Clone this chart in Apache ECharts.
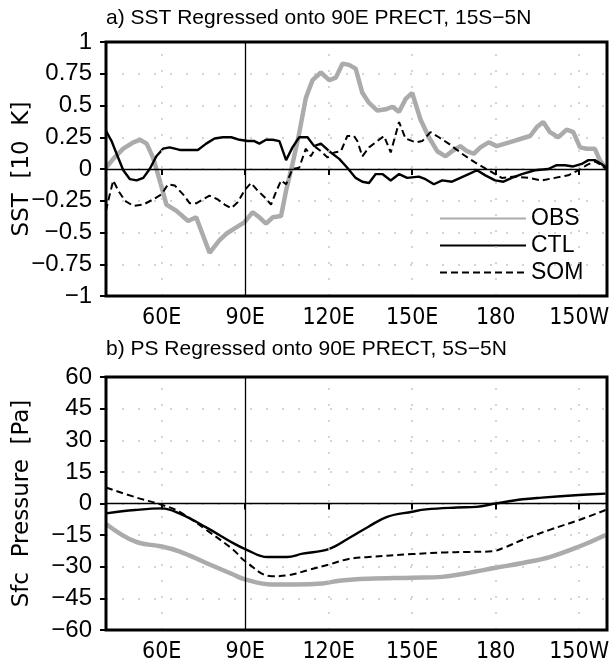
<!DOCTYPE html>
<html>
<head>
<meta charset="utf-8">
<script src="https://cdn.jsdelivr.net/npm/echarts@6/dist/echarts.min.js"></script>
<style>
  html, body { margin: 0; padding: 0; background: #fff; }
  #chart { width: 609px; height: 663px; }
</style>
</head>
<body>
<div id="chart"></div>
<script>
// Longitude ticks shared by both panels
const lonTicks = [60, 90, 120, 150, 180, 210];
const lonTickLabels = ['60E', '90E', '120E', '150E', '180', '150W'];
const dottedLons = [60, 120, 150, 180, 210];

// Panel a) SST regression, [lon, value in 10 K]
const sstObs = [[40,0.01],[42.6,0.08],[46.2,0.16],[49.8,0.21],[52.2,0.23],[54.6,0.20],[56.9,0.09],[59.3,-0.09],[61.7,-0.28],[65.3,-0.33],[69.5,-0.41],[72.4,-0.38],[74.8,-0.52],[77.2,-0.66],[80.8,-0.56],[83.2,-0.51],[86.8,-0.46],[89.7,-0.42],[92.7,-0.34],[95.1,-0.38],[97.5,-0.43],[99.9,-0.38],[102.9,-0.37],[104.7,-0.17],[107,0.04],[109.4,0.28],[111.8,0.56],[114.2,0.70],[117.2,0.76],[120.2,0.70],[122.6,0.72],[125,0.83],[127.3,0.82],[129.7,0.79],[132.1,0.60],[134.5,0.52],[137.5,0.46],[140.5,0.47],[142.9,0.49],[145.3,0.45],[147.6,0.55],[150,0.60],[153,0.39],[156,0.25],[159,0.14],[162,0.10],[164.3,0.14],[167.3,0.18],[169.7,0.14],[172.1,0.12],[174.5,0.17],[177.5,0.21],[180.4,0.18],[183.4,0.20],[186.4,0.22],[189.4,0.24],[192.4,0.26],[194.8,0.33],[197.1,0.37],[199.5,0.29],[202.5,0.25],[205.5,0.31],[207.9,0.29],[210.3,0.17],[212.7,0.16],[215.6,0.16],[217.4,0.07],[219.8,0.0]];
const sstCtl = [[40,0.30],[42,0.22],[43.8,0.12],[46.2,-0.01],[48.6,-0.08],[51,-0.09],[53.4,-0.07],[55.7,0.0],[58.1,0.10],[60.5,0.16],[62.9,0.17],[66.5,0.15],[70.1,0.15],[73,0.15],[76,0.20],[79,0.24],[82,0.25],[85,0.25],[88,0.23],[90.9,0.22],[93.3,0.22],[95.1,0.20],[97.5,0.23],[99.9,0.23],[102.3,0.22],[104.7,0.07],[107,0.17],[109.4,0.25],[112.4,0.25],[114.8,0.18],[117.2,0.20],[120.2,0.14],[123.8,0.08],[126.7,0.01],[129.7,-0.07],[132.1,-0.10],[134.5,-0.11],[136.9,-0.04],[139.3,-0.04],[142.3,-0.09],[145.3,-0.04],[148.2,-0.07],[152.4,-0.06],[154.8,-0.08],[157.8,-0.12],[160.8,-0.09],[164.3,-0.10],[167.3,-0.07],[170.3,-0.04],[173.3,-0.01],[176.3,-0.05],[179.8,-0.09],[182.8,-0.10],[185.8,-0.07],[189.4,-0.04],[194.1,-0.01],[198.9,0.0],[201.9,0.03],[204.9,0.03],[207.9,0.02],[210.9,0.04],[213.3,0.07],[215.6,0.07],[218,0.04],[219.8,0.01]];
const sstSom = [[40,-0.33],[40.8,-0.25],[42.6,-0.09],[44.4,-0.17],[46.8,-0.25],[49.8,-0.29],[53.4,-0.28],[56.9,-0.24],[59.9,-0.20],[62.3,-0.12],[64.7,-0.13],[67.7,-0.20],[70.1,-0.27],[72.4,-0.27],[74.8,-0.24],[77.2,-0.21],[80.2,-0.24],[82.6,-0.28],[85,-0.31],[87.4,-0.26],[89.7,-0.17],[92.1,-0.11],[94.5,-0.17],[96.9,-0.22],[99.3,-0.28],[101.1,-0.18],[102.9,-0.09],[104.7,-0.12],[107,0.0],[109.4,0.01],[111.8,0.16],[113.6,0.10],[115.4,0.17],[117.2,0.14],[119.6,0.09],[122,0.13],[124.4,0.14],[126.7,0.26],[129.1,0.26],[130.3,0.22],[132.1,0.10],[134.5,0.17],[136.9,0.21],[139.9,0.26],[142.3,0.13],[145.3,0.37],[147.6,0.24],[151.2,0.21],[153.6,0.22],[156.6,0.29],[159.6,0.25],[163.1,0.20],[167.9,0.12],[172.7,0.05],[177.5,-0.01],[182.2,-0.07],[187,-0.06],[191.8,-0.07],[196.5,-0.09],[201.3,-0.07],[206.1,-0.05],[209.7,-0.01],[212.7,0.03],[215.6,0.06],[218,0.03],[219.8,0.0]];

// Panel b) surface pressure regression, [lon, Pa]
const psObs = [[40,-9.7],[50.4,-18],[60,-20.4],[66.3,-22.7],[76,-28.2],[85.7,-33.7],[90,-36],[99.6,-38.4],[108,-38.4],[117.7,-37.9],[124.6,-36.5],[134.3,-35.7],[150,-35.2],[160.7,-34.8],[169,-33.2],[180,-30.5],[189.7,-28.2],[199.4,-25.4],[210,-20.4],[219.5,-14.9]];
const psCtl = [[40,-4.7],[50.4,-3.1],[60,-2.3],[66.3,-4.7],[76,-11.3],[85.7,-18.8],[90,-21.6],[98,-25.4],[105,-25.4],[110.6,-23.8],[120,-21.6],[127.2,-16.5],[134.3,-11],[141,-6.3],[150,-3.9],[155,-2.8],[166,-1.9],[173,-1.6],[180,0],[189.7,2],[196.6,2.8],[210,4],[219.5,4.7]];
const psSom = [[40,7.6],[51,2.8],[60,-0.6],[66.3,-3.9],[76,-12.5],[85.7,-21.9],[90,-27.4],[99.6,-34.5],[105,-34.1],[113.4,-31.3],[120,-29],[127.2,-26.3],[134.3,-25.4],[150,-24],[162,-23.2],[169,-23],[178.6,-22.7],[182.8,-21.1],[189.7,-17.2],[199.4,-12.5],[210,-7.8],[219.5,-3.1]];

const FONT = 'Liberation Sans, Arial, sans-serif';
const NARROW = 'Liberation Sans Narrow, DejaVu Sans Condensed, sans-serif';
const WIDE = 'DejaVu Sans, sans-serif';
const MINUS = v => String(v).replace('-', '\u2212');

function xAxisFor(gridIndex) {
  return {
    type: 'value', gridIndex, min: 40, max: 220,
    axisLine: { show: false },
    axisTick: { show: true, customValues: lonTicks, length: 6, lineStyle: { color: '#000', width: 2 } },
    axisLabel: {
      customValues: lonTicks, margin: 11, color: '#000', fontFamily: NARROW, fontSize: 23,
      formatter: v => lonTickLabels[lonTicks.indexOf(v)]
    },
    splitLine: { show: false }
  };
}

function yAxisFor(gridIndex, min, max, interval, name) {
  return {
    type: 'value', gridIndex, min, max, interval, name,
    nameLocation: 'middle', nameGap: 72, nameRotate: 90, nameMoveOverlap: false,
    nameTextStyle: { color: '#000', fontFamily: WIDE, fontSize: 23 },
    axisLine: { show: false },
    axisTick: { show: true, length: 6, lineStyle: { color: '#000', width: 2 } },
    axisLabel: { margin: 14, color: '#000', fontFamily: FONT, fontSize: 24, formatter: MINUS },
    splitLine: { show: true, lineStyle: { color: '#c8c8c8', width: 1.5, type: [2, 14] } }
  };
}

// Reference lines: zero line, 90E line and dotted longitude grid
function refLines() {
  return {
    silent: true, symbol: 'none', animation: false, label: { show: false },
    data: [
      { yAxis: 0, lineStyle: { color: '#000', width: 1.3, type: 'solid' } },
      { xAxis: 90, lineStyle: { color: '#000', width: 1.3, type: 'solid' } }
    ].concat(dottedLons.map(x => ({ xAxis: x, lineStyle: { color: '#c8c8c8', width: 1.5, type: [2, 14] } })))
  };
}

function seriesSet(idx, obs, ctl, som, smooth) {
  return [
    { name: 'OBS', type: 'line', xAxisIndex: idx, yAxisIndex: idx, data: obs, symbol: 'none', smooth,
      lineStyle: { color: '#ababab', width: 4.5 }, itemStyle: { color: '#ababab' }, z: 3, markLine: refLines() },
    { name: 'CTL', type: 'line', xAxisIndex: idx, yAxisIndex: idx, data: ctl, symbol: 'none', smooth,
      lineStyle: { color: '#000', width: 2.4 }, itemStyle: { color: '#000' }, z: 4 },
    { name: 'SOM', type: 'line', xAxisIndex: idx, yAxisIndex: idx, data: som, symbol: 'none', smooth,
      lineStyle: { color: '#000', width: 2, type: [7, 4] }, itemStyle: { color: '#000' }, z: 4 }
  ];
}

const gridBase = {
  left: 106, width: 501, show: true, borderColor: '#000', borderWidth: 3, z: 6,
  backgroundColor: 'transparent', containLabel: false, outerBoundsMode: 'none'
};

const chart = echarts.init(document.getElementById('chart'), null, { renderer: 'canvas' });
chart.setOption({
  animation: false,
  backgroundColor: '#fff',
  title: [
    { text: 'a) SST Regressed onto 90E PRECT, 15S\u22125N', left: 106, top: 8, padding: 0,
      textStyle: { color: '#000', fontFamily: FONT, fontSize: 21, fontWeight: 'normal' } },
    { text: 'b) PS Regressed onto 90E PRECT, 5S\u22125N', left: 106, top: 339, padding: 0,
      textStyle: { color: '#000', fontFamily: FONT, fontSize: 21, fontWeight: 'normal' } }
  ],
  legend: {
    orient: 'vertical', left: 439, top: 207, padding: 0,
    itemWidth: 86, itemHeight: 14, itemGap: 4,
    data: ['OBS', 'CTL', 'SOM'],
    itemStyle: { color: 'rgba(0,0,0,0)', borderColor: 'rgba(0,0,0,0)', borderWidth: 0, opacity: 0 },
    textStyle: { color: '#000', fontFamily: FONT, fontSize: 23, lineHeight: 22 }
  },
  grid: [
    Object.assign({}, gridBase, { top: 42, height: 254 }),
    Object.assign({}, gridBase, { top: 377, height: 253 })
  ],
  xAxis: [xAxisFor(0), xAxisFor(1)],
  yAxis: [
    yAxisFor(0, -1, 1, 0.25, 'SST  [10  K]'),
    yAxisFor(1, -60, 60, 15, 'Sfc  Pressure  [Pa]')
  ],
  series: seriesSet(0, sstObs, sstCtl, sstSom, false)
    .concat(seriesSet(1, psObs, psCtl, psSom, 0.4))
});
</script>
</body>
</html>
